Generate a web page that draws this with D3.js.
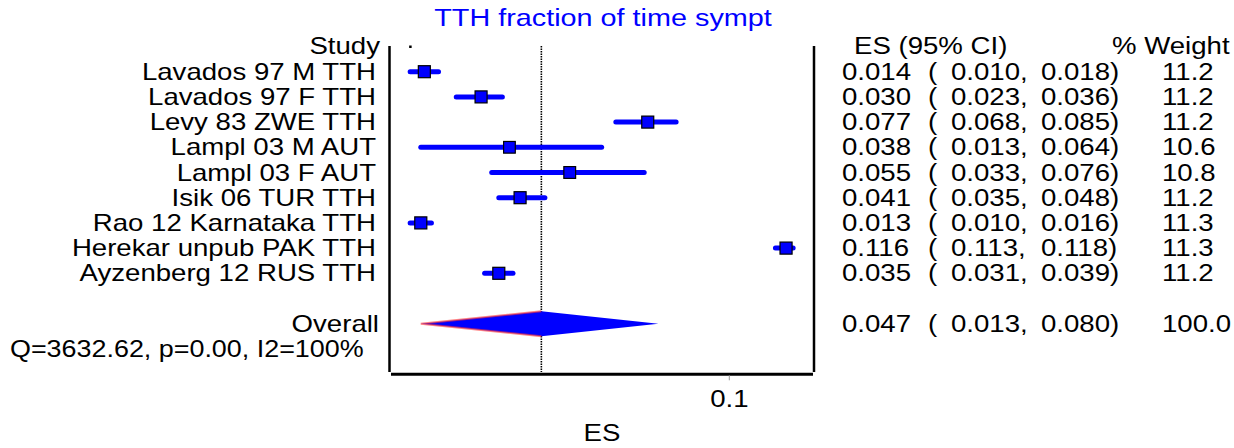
<!DOCTYPE html>
<html><head><meta charset="utf-8">
<script src="https://cdn.jsdelivr.net/npm/d3@7"></script>
<style>html,body{margin:0;padding:0;background:#fff;}svg{display:block;}</style>
</head><body>
<svg id="c" width="1234" height="448"></svg>
<script>
const studies = ["Lavados 97 M TTH","Lavados 97 F TTH","Levy 83 ZWE TTH","Lampl 03 M AUT","Lampl 03 F AUT","Isik 06 TUR TTH","Rao 12 Karnataka TTH","Herekar unpub PAK TTH","Ayzenberg 12 RUS TTH"];
const es     = [0.014,0.030,0.077,0.038,0.055,0.041,0.013,0.116,0.035];
const ciLow  = [0.010,0.023,0.068,0.013,0.033,0.035,0.010,0.113,0.031];
const ciHigh = [0.018,0.036,0.085,0.064,0.076,0.048,0.016,0.118,0.039];
const weights= [11.2,11.2,11.2,10.6,10.8,11.2,11.3,11.3,11.2];
const overall = {label:"Overall", es:0.047, lo:0.013, hi:0.080, weight:100.0};
const hetText = "Q=3632.62, p=0.00, I2=100%";
const xTicks = [0.1];
const xDomain = [0.0046, 0.1236];
const title = "TTH fraction of time sympt";

const svg = d3.select("#c");
const FONT = "'Liberation Sans', Arial, Helvetica, sans-serif";
const blue = "#0000ff";
const FS = 23;     // left labels
const FSR = 24;    // right columns
const SXL = 1.2;
const SXR = 1.15;

const x = d3.scaleLinear().domain(xDomain).range([391, 813]);
const y = d3.scaleLinear().domain([0, 1]).range([46.5, 71.7]); // row index -> center
const rowY = i => y(i);

function txt(str, px, py, anchor, size, color, sx) {
  const g = svg.append("g").attr("transform", `translate(${px},${py}) scale(${sx},1)`);
  g.append("text").attr("x",0).attr("y",0)
   .attr("text-anchor", anchor||"start")
   .attr("font-family", FONT).attr("font-size", size||FS)
   .attr("fill", color||"#000")
   .attr("xml:space","preserve")
   .text(str);
  return g;
}

// title
txt(title, 603, 26, "middle", 24, blue, 1.2);

// frame lines
const topY = 46, botY = 372;
svg.append("line").attr("x1",x.range()[0]-1.5).attr("x2",x.range()[0]-1.5).attr("y1",topY).attr("y2",botY)
  .attr("stroke","#000").attr("stroke-width",2.5);
svg.append("line").attr("x1",x.range()[1]+1).attr("x2",x.range()[1]+1).attr("y1",topY).attr("y2",botY)
  .attr("stroke","#000").attr("stroke-width",2.5);

// x axis
const axisY = 374.3;
svg.append("line").attr("x1",x.range()[0]).attr("x2",x.range()[1]).attr("y1",axisY).attr("y2",axisY)
  .attr("stroke","#000").attr("stroke-width",3);
xTicks.forEach(t=>{
  svg.append("line").attr("x1",x(t)).attr("x2",x(t)).attr("y1",axisY+1).attr("y2",axisY+6)
    .attr("stroke","#999").attr("stroke-width",1);
  txt(String(t), x(t), 407, "middle", FS, "#000", SXL);
});
txt("ES", (x.range()[0]+x.range()[1])/2, 441, "middle", FS, "#000", SXL);

// overall vertical dotted line
svg.append("line").attr("x1",x(overall.es)).attr("x2",x(overall.es)).attr("y1",topY).attr("y2",botY)
  .attr("stroke","#000").attr("stroke-width",1.6).attr("stroke-dasharray","1.5,1");

// header
txt("Study", 380, rowY(0)+7, "end", FS, "#000", SXL);
svg.append("rect").attr("x",x(0.010)-1).attr("y",rowY(0)-1).attr("width",2.5).attr("height",2.5).attr("fill","#000");
txt("ES (95% CI)", 854, rowY(0)+7, "start", FSR, "#000", SXR);
txt("% Weight", 1112, rowY(0)+7, "start", FSR, "#000", SXR);

const f3 = d3.format(".3f"), f1 = d3.format(".1f");
const size = d3.scaleSqrt().domain([0, 11.2]).range([0, 12]);

function rightCols(cy, e, lo, hi, w) {
  txt(f3(e), 842, cy+8, "start", FSR, "#000", SXR);
  txt("(", 928, cy+8, "start", FSR, "#000", SXR);
  txt(f3(lo)+",", 951, cy+8, "start", FSR, "#000", SXR);
  txt(f3(hi)+")", 1041, cy+8, "start", FSR, "#000", SXR);
  txt(f1(w), 1162, cy+8, "start", FSR, "#000", SXR);
}

studies.forEach((s,i)=>{
  const cy = rowY(i+1);
  txt(s, 376, cy+8, "end", FS, "#000", SXL);
  svg.append("line").attr("x1",x(ciLow[i])).attr("x2",x(ciHigh[i])).attr("y1",cy).attr("y2",cy)
    .attr("stroke",blue).attr("stroke-width",5).attr("stroke-linecap","round");
  const w = size(weights[i]);
  svg.append("rect").attr("x",x(es[i])-w/2).attr("y",cy-w/2).attr("width",w).attr("height",w)
    .attr("fill",blue).attr("stroke","#000").attr("stroke-width",1.2);
  rightCols(cy, es[i], ciLow[i], ciHigh[i], weights[i]);
});

// overall
const oy = rowY(studies.length+2);
txt(overall.label, 379, oy+8, "end", FS, "#000", SXL);
const dh = 12.5;
svg.append("polygon")
  .attr("points", [[x(overall.lo),oy],[x(overall.es),oy-dh],[x(overall.hi),oy],[x(overall.es),oy+dh]].map(p=>p.join(",")).join(" "))
  .attr("fill",blue);
svg.append("polyline")
  .attr("points", [[x(overall.es),oy-dh],[x(overall.lo),oy],[x(overall.es),oy+dh]].map(p=>p.join(",")).join(" "))
  .attr("fill","none").attr("stroke","#ff3030").attr("stroke-opacity",0.6).attr("stroke-width",2);
rightCols(oy, overall.es, overall.lo, overall.hi, overall.weight);

txt(hetText, 10, rowY(studies.length+3)+8, "start", FS, "#000", 1.17);
</script>
</body></html>
